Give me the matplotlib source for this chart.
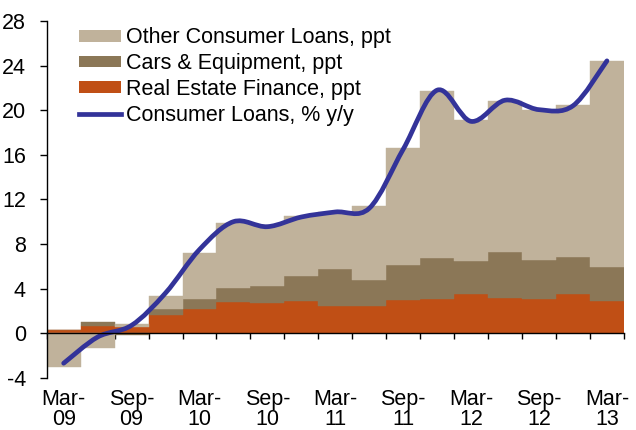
import matplotlib
matplotlib.use("Agg")
import matplotlib.pyplot as plt
import numpy as np
from matplotlib.path import Path
from matplotlib.patches import PathPatch, Patch
from matplotlib.lines import Line2D

plt.rcParams['font.family'] = ['Liberation Sans', 'DejaVu Sans']
plt.rcParams['axes.unicode_minus'] = False

quarters = ["Mar-09", "Jun-09", "Sep-09", "Dec-09", "Mar-10", "Jun-10", "Sep-10", "Dec-10",
            "Mar-11", "Jun-11", "Sep-11", "Dec-11", "Mar-12", "Jun-12", "Sep-12", "Dec-12", "Mar-13"]
tick_labels = ["Mar-\n09", "Sep-\n09", "Mar-\n10", "Sep-\n10", "Mar-\n11", "Sep-\n11",
               "Mar-\n12", "Sep-\n12", "Mar-\n13"]

real_estate = [0.30, 0.63, 0.54, 1.67, 2.18, 2.75, 2.66, 2.87, 2.39, 2.45, 2.93, 3.07, 3.55, 3.17, 3.07, 3.55, 2.84]
cars_equipment = [0.00, 0.36, -0.15, 0.48, 0.92, 1.31, 1.58, 2.26, 3.37, 2.33, 3.16, 3.65, 2.90, 4.15, 3.53, 3.29, 3.10]
other_consumer = [-3.00, -1.37, 0.29, 1.22, 4.07, 5.80, 5.46, 5.35, 5.11, 6.60, 10.56, 15.03, 12.64, 13.47, 13.44, 13.65, 18.49]
consumer_loans = [-2.7, -0.35, 0.7, 3.6, 7.5, 10.0, 9.55, 10.42, 10.87, 11.2, 16.5, 21.8, 19.0, 20.9, 20.05, 20.4, 24.43]

c_other = '#C0B29B'
c_cars = '#8B7757'
c_red = '#C04F15'
c_line = '#333399'
fs = 15.5

fig = plt.figure(figsize=(6.36, 4.30), dpi=100)
ax = fig.add_axes([0.0734, 0.1216, 0.9076, 0.8294])

x = np.arange(len(quarters))
pos_base = np.zeros(len(x))
neg_base = np.zeros(len(x))
for vals, col in [(real_estate, c_red), (cars_equipment, c_cars), (other_consumer, c_other)]:
    v = np.array(vals, dtype=float)
    bottoms = np.where(v >= 0, pos_base, neg_base)
    ax.bar(x, v, width=1.0, bottom=bottoms, color=col, edgecolor=col, linewidth=0.3, zorder=2)
    pos_base = pos_base + np.where(v >= 0, v, 0)
    neg_base = neg_base + np.where(v < 0, v, 0)

# smooth line through data points using cubic Bezier path (Catmull-Rom control points)
y = np.array(consumer_loans, dtype=float)
xs = x.astype(float)
n = len(xs)
verts = [(xs[0], y[0])]
codes = [Path.MOVETO]
for i in range(n - 1):
    p0 = np.array([xs[max(i - 1, 0)], y[max(i - 1, 0)]])
    p1 = np.array([xs[i], y[i]])
    p2 = np.array([xs[i + 1], y[i + 1]])
    p3 = np.array([xs[min(i + 2, n - 1)], y[min(i + 2, n - 1)]])
    c1 = p1 + (p2 - p0) / 6.0
    c2 = p2 - (p3 - p1) / 6.0
    verts += [tuple(c1), tuple(c2), tuple(p2)]
    codes += [Path.CURVE4] * 3
ax.add_patch(PathPatch(Path(verts, codes), facecolor='none', edgecolor=c_line,
                       linewidth=3.4, capstyle='round', joinstyle='round', zorder=4))

ax.set_xlim(-0.5, len(x) - 0.5)
ax.set_ylim(-4, 28)
ax.set_yticks(np.arange(-4, 29, 4))
ax.tick_params(axis='y', direction='out', length=5, width=1, pad=10, labelsize=fs)

ax.spines['top'].set_visible(False)
ax.spines['right'].set_visible(False)
ax.spines['bottom'].set_position(('data', 0))
ax.spines['bottom'].set_zorder(5)
ax.spines['left'].set_linewidth(1)
ax.spines['bottom'].set_linewidth(1)

ax.set_xticks(np.arange(0, len(x), 2))
ax.set_xticklabels(tick_labels, linespacing=0.9)
ax.set_xticks(np.arange(-0.5, len(x), 1.0), minor=True)
ax.tick_params(axis='x', which='major', length=0, pad=40.5, labelsize=fs)
ax.tick_params(axis='x', which='minor', direction='out', length=4.5, width=1)

handles = [Patch(facecolor=c_other, edgecolor='none'),
           Patch(facecolor=c_cars, edgecolor='none'),
           Patch(facecolor=c_red, edgecolor='none'),
           Line2D([0], [0], color=c_line, linewidth=3.4)]
labels = ["Other Consumer Loans, ppt", "Cars & Equipment, ppt",
          "Real Estate Finance, ppt", "Consumer Loans, % y/y"]
ax.legend(handles, labels, loc='upper left', bbox_to_anchor=(0.056, 0.982), frameon=False,
          fontsize=fs, borderpad=0, borderaxespad=0, handlelength=1.95, handleheight=0.47,
          handletextpad=0.23, labelspacing=0.22)

fig.savefig("out.png", dpi=100)
